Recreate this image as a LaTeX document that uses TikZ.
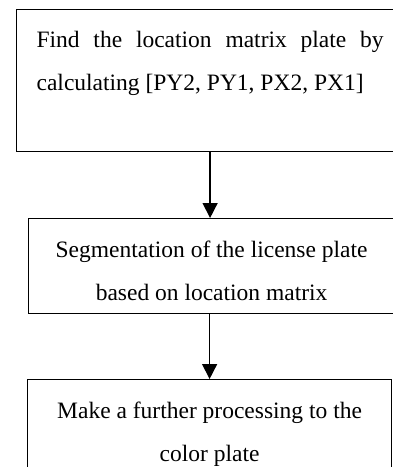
\documentclass[tikz,border=0pt]{standalone}
\usepackage{fontspec}
\setmainfont{Liberation Serif}
\usetikzlibrary{arrows.meta, positioning}

\tikzset{
  plainbox/.style={draw, line width=1.2pt, inner ysep=0pt, anchor=north west},
  flowarrow/.style={-{Triangle[length=15pt,width=15pt]}, line width=1.5pt}
}

\begin{document}
\begin{tikzpicture}[x=1pt, y=-1pt]
    \useasboundingbox (0,0) rectangle (392,467);
    \fontsize{23.5}{43}\selectfont

    \node[plainbox, inner xsep=20pt] (find) at (16,9)
        {\parbox[c][142pt][t]{347pt}{\vspace*{22pt}%
        Find the location matrix plate by\linebreak calculating [PY2, PY1, PX2, PX1]}};

    \node[plainbox, inner xsep=10pt] (seg) at (28,218)
        {\parbox[c][95pt][t]{346pt}{\centering\vspace*{22pt}%
        Segmentation of the license plate\\ based on location matrix}};

    \node[plainbox, inner xsep=10pt] (make) at (27,379)
        {\parbox[c][110pt][t]{344pt}{\centering\vspace*{22pt}%
        Make a further processing to the\\ color plate}};

    \draw[flowarrow] (find.south) -- (find.south |- seg.north);
    \draw[flowarrow] (make.north |- seg.south) -- (make.north);
\end{tikzpicture}
\end{document}
